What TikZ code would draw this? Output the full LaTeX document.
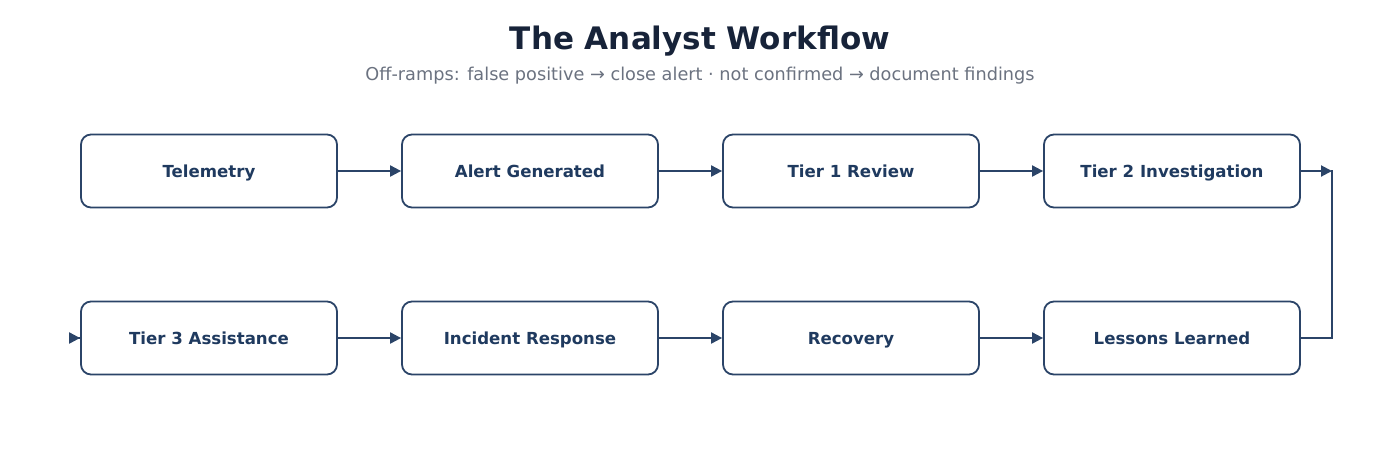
\documentclass[tikz,border=0pt]{standalone}
\usepackage{fontspec}
\setmainfont{DejaVu Sans}
\usetikzlibrary{arrows.meta}
\definecolor{navy}{HTML}{2B4468}
\definecolor{txtnavy}{HTML}{1F3A5F}
\definecolor{titlec}{HTML}{172339}
\definecolor{subc}{HTML}{6B7280}
\tikzset{
  stepbox/.style={draw=navy, line width=1.8pt, rounded corners=10pt, fill=white,
    minimum width=256pt, minimum height=73pt, inner sep=0pt,
    text height=14pt, text depth=1pt,
    font=\fontsize{16.6}{20}\selectfont\bfseries, text=txtnavy},
  arr/.style={draw=navy, line width=2pt, -{Triangle[length=11pt,width=11pt]}},
  plain/.style={draw=navy, line width=2pt},
}
\begin{document}
\begin{tikzpicture}[x=1pt,y=-1pt]
\useasboundingbox (0,0) rectangle (1400,448);
\node[font=\fontsize{31}{36}\selectfont\bfseries, text=titlec] (title) at (700,41) {The Analyst Workflow};
\node[font=\fontsize{17.7}{20}\selectfont, text=subc] (sub) at (700,76) {Off-ramps: false positive → close alert · not confirmed → document findings};
\node[stepbox] (a) at (209,171) {Telemetry};
\node[stepbox] (b) at (530,171) {Alert Generated};
\node[stepbox] (c) at (851,171) {Tier 1 Review};
\node[stepbox] (d) at (1172,171) {Tier 2 Investigation};
\node[stepbox] (e) at (209,338) {Tier 3 Assistance};
\node[stepbox] (f) at (530,338) {Incident Response};
\node[stepbox] (g) at (851,338) {Recovery};
\node[stepbox] (h) at (1172,338) {Lessons Learned};
\coordinate (dend) at (1332,171);
\coordinate (hend) at (1332,338);
\draw[arr] (a) -- (b);
\draw[arr] (b) -- (c);
\draw[arr] (c) -- (d);
\draw[arr] (d) -- (dend);
\draw[plain] (h.east) -- (hend) -- ([yshift=1pt]dend);
\draw[arr] (e) -- (f);
\draw[arr] (f) -- (g);
\draw[arr] (g) -- (h);
\draw[arr] ([xshift=-0.5pt]e.west) -- (e.west);
\end{tikzpicture}
\end{document}
